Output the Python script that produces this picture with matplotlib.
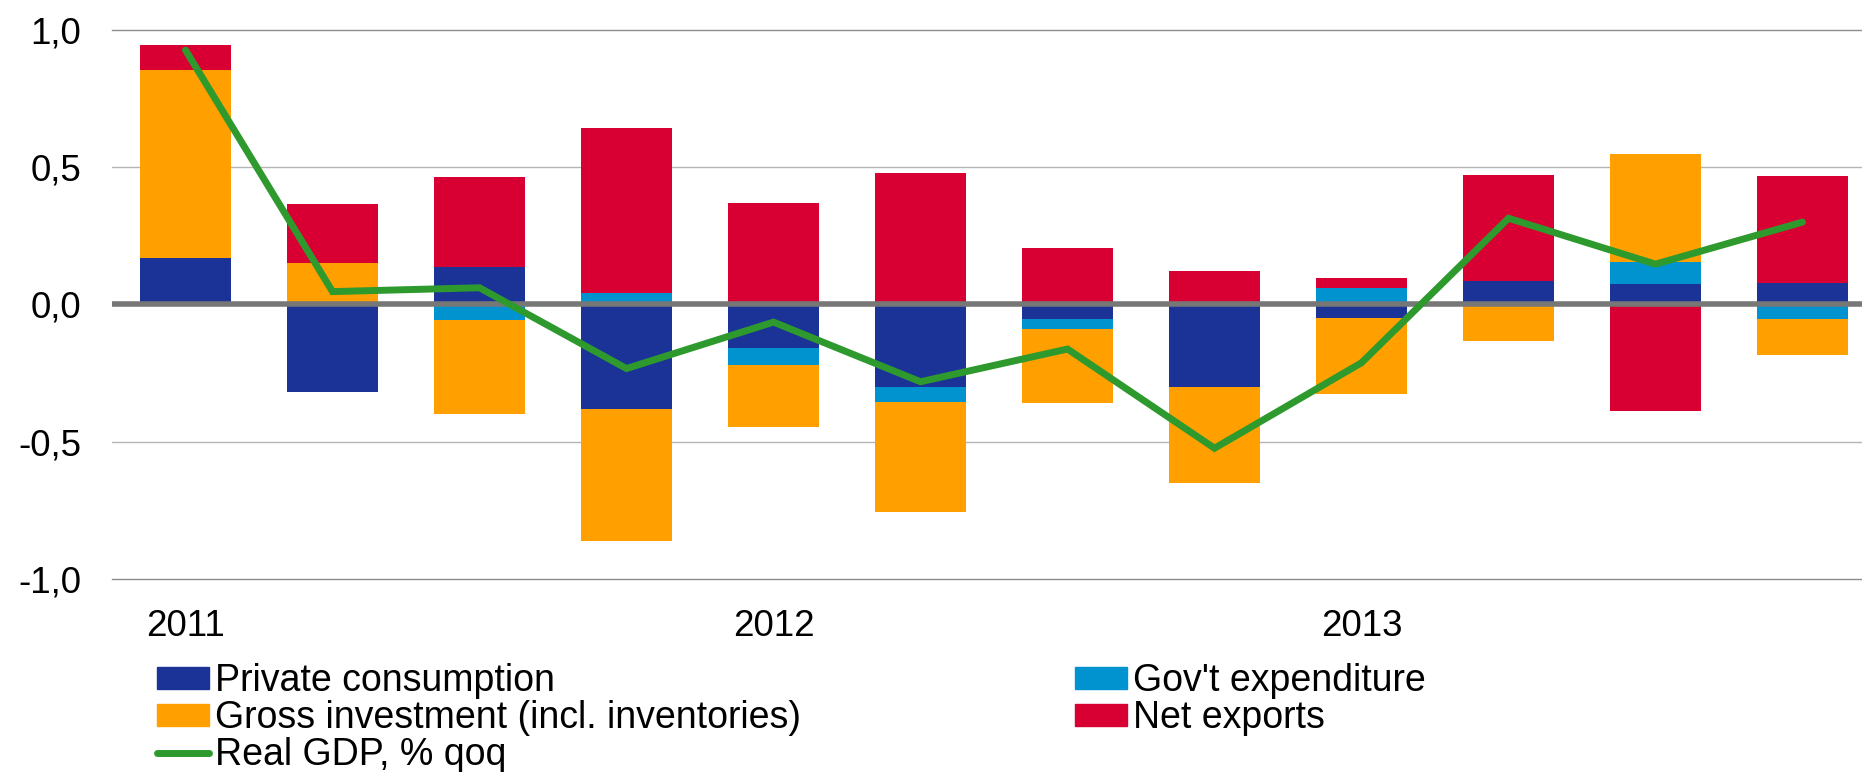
import numpy as np
import matplotlib.pyplot as plt
from matplotlib.patches import Patch
from matplotlib.lines import Line2D

plt.rcParams['font.family'] = ['Liberation Sans', 'DejaVu Sans']

# quarterly contributions, 2011Q1 .. 2013Q4
quarters = ['2011Q1', '2011Q2', '2011Q3', '2011Q4',
            '2012Q1', '2012Q2', '2012Q3', '2012Q4',
            '2013Q1', '2013Q2', '2013Q3', '2013Q4']
year_labels = ['2011', '2012', '2013']
year_pos = [0, 4, 8]

private_cons = [0.17, -0.32, 0.136, -0.38, -0.16, -0.30, -0.054, -0.30, -0.05, 0.086, 0.072, 0.076]
gov_exp = [0.0, 0.0, -0.057, 0.04, -0.061, -0.056, -0.036, 0.0, 0.06, 0.0, 0.082, -0.053]
gross_inv = [0.681, 0.15, -0.343, -0.48, -0.227, -0.40, -0.269, -0.35, -0.277, -0.135, 0.393, -0.132]
net_exports = [0.091, 0.215, 0.326, 0.60, 0.367, 0.478, 0.206, 0.12, 0.037, 0.384, -0.387, 0.389]
real_gdp = [0.925, 0.046, 0.06, -0.234, -0.065, -0.282, -0.163, -0.524, -0.213, 0.313, 0.146, 0.299]

series = [
    ("Private consumption", private_cons, "#1b3296"),
    ("Gov't expenditure", gov_exp, "#0093d0"),
    ("Gross investment (incl. inventories)", gross_inv, "#ffa000"),
    ("Net exports", net_exports, "#d80032"),
]
gdp_color = "#2e9a2e"

W, H = 1862, 772
fig = plt.figure(figsize=(W / 100, H / 100), dpi=100)
ax = fig.add_axes([112 / W, (H - 579) / H, 1764 / W, 549.5 / H])

x = np.arange(len(quarters))
pos_base = np.zeros(len(x))
neg_base = np.zeros(len(x))
for name, vals, col in series:
    v = np.array(vals)
    bottom = np.where(v >= 0, pos_base, neg_base)
    ax.bar(x, v, width=0.624, bottom=bottom, color=col, edgecolor='none', zorder=2)
    pos_base += np.where(v >= 0, v, 0)
    neg_base += np.where(v < 0, v, 0)

ax.axhline(0, color='#777777', lw=4, zorder=3)
ax.plot(x, real_gdp, color=gdp_color, lw=5, solid_capstyle='round', solid_joinstyle='miter', zorder=4)

ax.set_xlim(-0.5, 11.5)
ax.set_ylim(-1, 1)
ax.set_yticks([-1, -0.5, 0, 0.5, 1])
ax.set_yticklabels(['-1,0', '-0,5', '0,0', '0,5', '1,0'])
ax.set_xticks(year_pos)
ax.set_xticklabels(year_labels)
ax.tick_params(axis='both', length=0, labelsize=26.5, colors='black')
ax.tick_params(axis='y', pad=22)
ax.tick_params(axis='x', pad=21.5)
for yv in [-0.5, 0.5]:
    ax.axhline(yv, color='#b4b4b4', lw=1.0, zorder=0)
for yv in [-1, 1]:
    ax.axhline(yv, color='#8c8c8c', lw=1.0, zorder=0, clip_on=False)
for s in ax.spines.values():
    s.set_visible(False)

leg_kw = dict(frameon=False, fontsize=27, handlelength=1.39, handleheight=0.51,
              handletextpad=0.16, labelspacing=0.03, borderpad=0, borderaxespad=0,
              loc='upper left', bbox_transform=fig.transFigure)
h1 = [Patch(color=series[0][2], label=series[0][0]),
      Patch(color=series[2][2], label=series[2][0]),
      Line2D([], [], color=gdp_color, lw=5, solid_capstyle='round', label="Real GDP, % qoq")]
h2 = [Patch(color=series[1][2], label=series[1][0]),
      Patch(color=series[3][2], label=series[3][0])]
fig.legend(handles=h1, bbox_to_anchor=(157 / W, (H - 663) / H), **leg_kw)
fig.legend(handles=h2, bbox_to_anchor=(1075 / W, (H - 663) / H), **leg_kw)

fig.savefig('out.png', dpi=100)
